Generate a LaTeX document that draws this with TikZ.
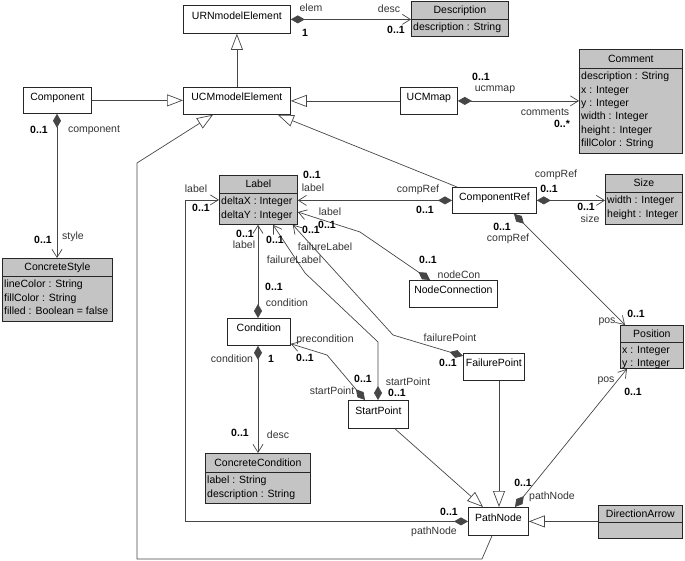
\documentclass[tikz,border=0pt]{standalone}
\usepackage{fontspec}
\setmainfont{Liberation Sans}
\usetikzlibrary{arrows.meta}
\definecolor{boxgray}{RGB}{196,196,196}
\definecolor{ln}{RGB}{70,70,70}
\begin{document}
\begin{tikzpicture}[x=1pt,y=-1pt,
  font=\fontsize{10.5}{13.3}\selectfont,
  box/.style={draw=black!85, line width=0.8pt, inner sep=0pt, anchor=north west, fill=white},
  gbox/.style={box, fill=boxgray},
  sepl/.style={draw=black!85, line width=0.8pt},
  nm/.style={anchor=base, inner sep=0pt},
  attr/.style={anchor=north west, align=left, inner sep=0pt},
  ml/.style={inner sep=0pt, font=\fontsize{10.5}{12}\selectfont\bfseries},
  rl/.style={inner sep=0pt, text=black!80},
  conn/.style={draw=ln, line width=0.7pt},
  gen/.style={conn, -{Triangle[open, length=16pt, width=12pt, fill=white]}},
  comp/.style={conn, {Diamond[length=14pt, width=8pt]}-{Straight Barb[length=8pt, width=10pt]}}
]
\useasboundingbox (0,0) rectangle (685,561);

% ---------- plain classes ----------
\node[box, minimum width=107pt, minimum height=28pt] (urn) at (183,5) {};
\node[nm] (urnT) at (urn.center) {URNmodelElement};
\node[box, minimum width=107pt, minimum height=27pt] (ucm) at (183,87) {};
\node[nm] (ucmT) at (ucm.center) {UCMmodelElement};
\node[box, minimum width=68pt, minimum height=26pt] (cmp) at (23,87) {};
\node[nm] (cmpT) at (cmp.center) {Component};
\node[box, minimum width=57pt, minimum height=27pt] (map) at (400,87) {};
\node[nm] (mapT) at (map.center) {UCMmap};
\node[box, minimum width=84pt, minimum height=26pt] (cref) at (452,187) {};
\node[nm] (crefT) at (cref.center) {ComponentRef};
\node[box, minimum width=88pt, minimum height=27pt] (ncon) at (409,280) {};
\node[nm] (nconT) at (ncon.center) {NodeConnection};
\node[box, minimum width=63pt, minimum height=27pt] (cond) at (227,318) {};
\node[nm] (condT) at (cond.center) {Condition};
\node[box, minimum width=61pt, minimum height=27pt] (fp) at (463,353) {};
\node[nm] (fpT) at (fp.center) {FailurePoint};
\node[box, minimum width=60pt, minimum height=28pt] (sp) at (348,400) {};
\node[nm] (spT) at (sp.center) {StartPoint};
\node[box, minimum width=60pt, minimum height=28pt] (pn) at (468,507) {};
\node[nm] (pnT) at (pn.center) {PathNode};

% ---------- gray classes ----------
\node[gbox, minimum width=97pt, minimum height=35pt] (desc) at (411,1) {};
\draw[sepl] ([yshift=-18pt]desc.north west) -- ([yshift=-18pt]desc.north east);
\node[nm] (descT) at ([yshift=-13pt]desc.north) {Description};
\node[attr] (descA) at ([xshift=2pt,yshift=-22pt]desc.north west) {description : String};

\node[gbox, minimum width=103pt, minimum height=104pt] (cmt) at (579,49) {};
\draw[sepl] ([yshift=-19pt]cmt.north west) -- ([yshift=-19pt]cmt.north east);
\node[nm] (cmtT) at ([yshift=-13.3pt]cmt.north) {Comment};
\node[attr] (cmtA) at ([xshift=2pt,yshift=-23pt]cmt.north west)
  {description : String\\x : Integer\\y : Integer\\width : Integer\\height : Integer\\fillColor : String};

\node[gbox, minimum width=110pt, minimum height=63pt] (cstyle) at (2,258) {};
\draw[sepl] ([yshift=-18pt]cstyle.north west) -- ([yshift=-18pt]cstyle.north east);
\node[nm] (cstyleT) at ([yshift=-13pt]cstyle.north) {ConcreteStyle};
\node[attr] (cstyleA) at ([xshift=2pt,yshift=-22pt]cstyle.north west)
  {lineColor : String\\fillColor : String\\filled : Boolean = false};

\node[gbox, minimum width=78pt, minimum height=49pt] (lbl) at (219,175) {};
\draw[sepl] ([yshift=-18pt]lbl.north west) -- ([yshift=-18pt]lbl.north east);
\node[nm] (lblT) at ([yshift=-13pt]lbl.north) {Label};
\node[attr] (lblA) at ([xshift=2pt,yshift=-22pt]lbl.north west)
  {deltaX : Integer\\deltaY : Integer};

\node[gbox, minimum width=77pt, minimum height=50pt] (size) at (605,174) {};
\draw[sepl] ([yshift=-18pt]size.north west) -- ([yshift=-18pt]size.north east);
\node[nm] (sizeT) at ([yshift=-13pt]size.north) {Size};
\node[attr] (sizeA) at ([xshift=2pt,yshift=-22pt]size.north west)
  {width : Integer\\height : Integer};

\node[gbox, minimum width=63pt, minimum height=43pt] (pos) at (620,325) {};
\draw[sepl] ([yshift=-17pt]pos.north west) -- ([yshift=-17pt]pos.north east);
\node[nm] (posT) at ([yshift=-12.3pt]pos.north) {Position};
\node[attr] (posA) at ([xshift=2pt,yshift=-21pt]pos.north west)
  {x : Integer\\y : Integer};

\node[gbox, minimum width=105pt, minimum height=50pt] (ccond) at (205,453) {};
\draw[sepl] ([yshift=-19pt]ccond.north west) -- ([yshift=-19pt]ccond.north east);
\node[nm] (ccondT) at ([yshift=-13.3pt]ccond.north) {ConcreteCondition};
\node[attr] (ccondA) at ([xshift=2pt,yshift=-23pt]ccond.north west)
  {label : String\\description : String};

\node[gbox, minimum width=84pt, minimum height=33pt] (darr) at (598,505) {};
\draw[sepl] ([yshift=-17pt]darr.north west) -- ([yshift=-17pt]darr.north east);
\node[nm] (darrT) at ([yshift=-12.3pt]darr.north) {DirectionArrow};

% ---------- helper coordinates ----------
\coordinate (xl) at (185,0);

% ---------- connectors ----------
\draw[gen] (ucm.north) -- (urn.south);
\draw[comp] (urn.east) -- (desc.west |- urn.east);
\draw[gen] (cmp.east) -- (cmp.east -| ucm.west);
\draw[gen] (map.west) -- (map.west -| ucm.east);
\draw[comp] (map.east) -- (map.east -| cmt.west);
\draw[comp] ([xshift=34pt]cmp.south west) -- ([xshift=34pt]cmp.south west |- cstyle.north);
\draw[gen] ([xshift=5pt]cref.north west) -- ([xshift=-13pt]ucm.south east);
\draw[comp] (cref.west) -- (cref.west -| lbl.east);
\draw[comp] (cref.east) -- (cref.east -| size.west);
\draw[comp] ([xshift=62pt]cref.south west) -- ([xshift=5pt]pos.north west);
\draw[comp] ([xshift=47pt]pn.north west) -- ([xshift=7pt]pos.south west);
\draw[gen] (darr.west |- pn.east) -- (pn.east);
\draw[gen] ([xshift=36pt]fp.south west) -- ([xshift=36pt]fp.south west |- pn.north);
\draw[gen] ([xshift=47pt]sp.south west) -- ([xshift=15pt]pn.north west);
\draw[comp] ([xshift=31pt]cond.north west) -- ([xshift=31pt]cond.north west |- lbl.south);
\draw[comp] ([xshift=31pt]cond.south west) -- ([xshift=31pt]cond.south west |- ccond.north);
\draw[comp] ([xshift=17pt]sp.north west) -- (327,355) -- ([yshift=2pt]cond.south east);
\draw[comp] ([xshift=30pt]sp.north west) -- (378,342) -- (305,273) -- ([xshift=54pt]lbl.south west);
\draw[comp] ([yshift=-3pt]fp.north west) -- (393,335) -- ([xshift=-5pt]lbl.south east);
\draw[comp] ([xshift=21pt]ncon.north west) -- (360,232) -- ([yshift=-37pt]lbl.north east);
\draw[comp] (pn.west) -- (pn.west -| xl) -- (lbl.west -| xl) -- (lbl.west);
\draw[gen] ([xshift=24pt]pn.south west) -- (482,559) -- (137,559) -- (137,163) -- ([xshift=30pt]ucm.south west);

% ---------- role names and multiplicities ----------
\node[ml] (m1) at (305,33) {1};
\node[rl] (r1) at (311,8) {elem};
\node[rl] (r2) at (389,9) {desc};
\node[ml] (m2) at (396,30) {0..1};
\node[ml] (m3) at (39,130) {0..1};
\node[rl] (r3) at (94,130) {component};
\node[ml] (m4) at (43,240) {0..1};
\node[rl] (r4) at (73,237) {style};
\node[ml] (m5) at (481,77) {0..1};
\node[rl] (r5) at (495,90) {ucmmap};
\node[rl] (r6) at (545,112) {comments};
\node[ml] (m6) at (562,124) {0..*};
\node[rl] (r7) at (418,190) {compRef};
\node[ml] (m7) at (425,210) {0..1};
\node[ml] (m8) at (312,175) {0..1};
\node[rl] (r8) at (313,188) {label};
\node[rl] (r9) at (196,189) {label};
\node[ml] (m9) at (201,208) {0..1};
\node[rl] (r10) at (556,175) {compRef};
\node[ml] (m10) at (549,189) {0..1};
\node[ml] (m11) at (586,207) {0..1};
\node[rl] (r11) at (590,219) {size};
\node[ml] (m12) at (502,227) {0..1};
\node[rl] (r12) at (508,239) {compRef};
\node[rl] (r13) at (607,322) {pos};
\node[ml] (m13) at (636,314) {0..1};
\node[rl] (r14) at (606,381) {pos};
\node[ml] (m14) at (633,392) {0..1};
\node[ml] (m15) at (523,483) {0..1};
\node[rl] (r15) at (552,497) {pathNode};
\node[ml] (m16) at (449,512) {0..1};
\node[rl] (r16) at (434,532) {pathNode};
\node[rl] (r17) at (450,338) {failurePoint};
\node[ml] (m17) at (448,363) {0..1};
\node[ml] (m18) at (363,379) {0..1};
\node[rl] (r18) at (332,391) {startPoint};
\node[rl] (r19) at (408,382) {startPoint};
\node[ml] (m19) at (397,393) {0..1};
\node[rl] (r20) at (325,340) {precondition};
\node[ml] (m20) at (305,358) {0..1};
\node[ml] (m21) at (274,287) {0..1};
\node[rl] (r21) at (287,303) {condition};
\node[rl] (r22) at (232,359) {condition};
\node[ml] (m22) at (271,359) {1};
\node[ml] (m23) at (240,433) {0..1};
\node[rl] (r23) at (278,435) {desc};
\node[ml] (m24) at (245,234) {0..1};
\node[rl] (r24) at (244,245) {label};
\node[ml] (m25) at (275,240) {0..1};
\node[rl] (r25) at (294,260) {failureLabel};
\node[ml] (m26) at (311,230) {0..1};
\node[rl] (r26) at (325,247) {failureLabel};
\node[rl] (r27) at (330,212) {label};
\node[ml] (m27) at (327,225) {0..1};
\node[ml] (m28) at (428,260) {0..1};
\node[rl] (r28) at (459,275) {nodeCon};
\end{tikzpicture}
\end{document}
